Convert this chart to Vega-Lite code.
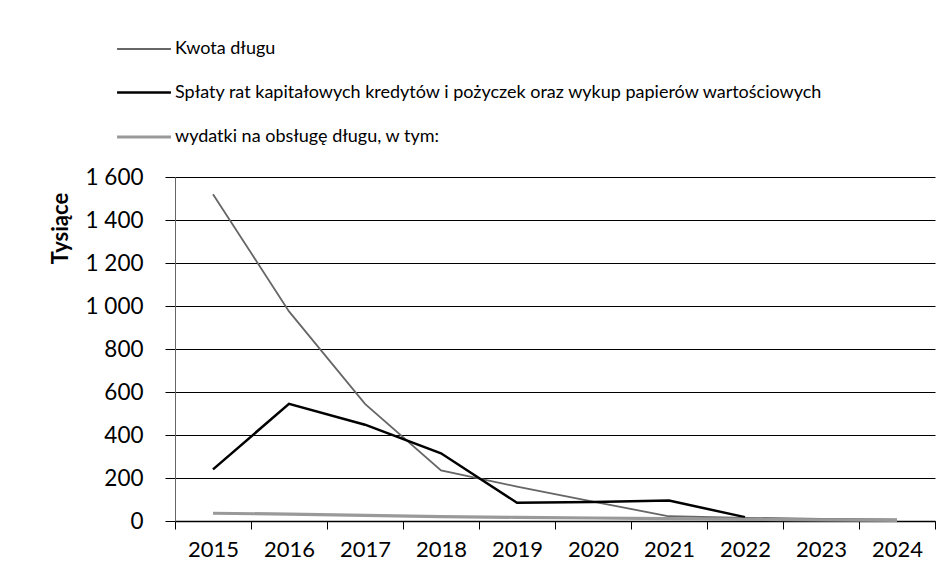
{
  "$schema": "https://vega.github.io/schema/vega-lite/v6.json",
  "autosize": {"type": "none"},
  "padding": {"left": 175, "top": 177, "right": 13, "bottom": 60},
  "width": 760,
  "height": 344,
  "background": "white",
  "config": {
    "font": "Lato",
    "view": {"stroke": null}
  },
  "data": {
    "values": [
      {"rok": "2015", "seria": "Kwota długu", "wartosc": 1520},
      {"rok": "2016", "seria": "Kwota długu", "wartosc": 975},
      {"rok": "2017", "seria": "Kwota długu", "wartosc": 545},
      {"rok": "2018", "seria": "Kwota długu", "wartosc": 235},
      {"rok": "2019", "seria": "Kwota długu", "wartosc": 160},
      {"rok": "2020", "seria": "Kwota długu", "wartosc": 90},
      {"rok": "2021", "seria": "Kwota długu", "wartosc": 22},
      {"rok": "2022", "seria": "Kwota długu", "wartosc": 15},
      {"rok": "2023", "seria": "Kwota długu", "wartosc": 10},
      {"rok": "2024", "seria": "Kwota długu", "wartosc": 8},
      {"rok": "2015", "seria": "Spłaty rat kapitałowych kredytów i pożyczek oraz wykup papierów wartościowych", "wartosc": 240},
      {"rok": "2016", "seria": "Spłaty rat kapitałowych kredytów i pożyczek oraz wykup papierów wartościowych", "wartosc": 545},
      {"rok": "2017", "seria": "Spłaty rat kapitałowych kredytów i pożyczek oraz wykup papierów wartościowych", "wartosc": 448},
      {"rok": "2018", "seria": "Spłaty rat kapitałowych kredytów i pożyczek oraz wykup papierów wartościowych", "wartosc": 315},
      {"rok": "2019", "seria": "Spłaty rat kapitałowych kredytów i pożyczek oraz wykup papierów wartościowych", "wartosc": 85},
      {"rok": "2020", "seria": "Spłaty rat kapitałowych kredytów i pożyczek oraz wykup papierów wartościowych", "wartosc": 88},
      {"rok": "2021", "seria": "Spłaty rat kapitałowych kredytów i pożyczek oraz wykup papierów wartościowych", "wartosc": 95},
      {"rok": "2022", "seria": "Spłaty rat kapitałowych kredytów i pożyczek oraz wykup papierów wartościowych", "wartosc": 18},
      {"rok": "2015", "seria": "wydatki na obsługę długu, w tym:", "wartosc": 36},
      {"rok": "2016", "seria": "wydatki na obsługę długu, w tym:", "wartosc": 32},
      {"rok": "2017", "seria": "wydatki na obsługę długu, w tym:", "wartosc": 26},
      {"rok": "2018", "seria": "wydatki na obsługę długu, w tym:", "wartosc": 20},
      {"rok": "2019", "seria": "wydatki na obsługę długu, w tym:", "wartosc": 17},
      {"rok": "2020", "seria": "wydatki na obsługę długu, w tym:", "wartosc": 14},
      {"rok": "2021", "seria": "wydatki na obsługę długu, w tym:", "wartosc": 11},
      {"rok": "2022", "seria": "wydatki na obsługę długu, w tym:", "wartosc": 8},
      {"rok": "2023", "seria": "wydatki na obsługę długu, w tym:", "wartosc": 5},
      {"rok": "2024", "seria": "wydatki na obsługę długu, w tym:", "wartosc": 3}
    ]
  },
  "mark": {"type": "line", "strokeCap": "butt"},
  "encoding": {
    "x": {
      "field": "rok",
      "type": "ordinal",
      "bandPosition": 0.5,
      "scale": {"type": "band", "paddingInner": 0, "paddingOuter": 0},
      "axis": {
        "title": null,
        "labelAngle": 0,
        "labelFontSize": 22,
        "labelColor": "black",
        "labelPadding": 10,
        "tickBand": "extent",
        "tickSize": 8,
        "tickColor": "black",
        "domainColor": "black",
        "domainWidth": 1.5,
        "grid": false
      }
    },
    "y": {
      "field": "wartosc",
      "type": "quantitative",
      "scale": {"domain": [0, 1600], "nice": false},
      "axis": {
        "title": "Tysiące",
        "titleFontSize": 22,
        "titleFontWeight": "bold",
        "titleColor": "black",
        "titleX": -103,
        "titleY": 51,
        "titleAngle": -90,
        "titleAlign": "center",
        "titleBaseline": "bottom",
        "values": [0, 200, 400, 600, 800, 1000, 1200, 1400, 1600],
        "labelExpr": "replace(format(datum.value, ','), ',', ' ')",
        "labelFontSize": 22.5,
        "labelColor": "black",
        "labelPadding": 22,
        "tickSize": 10,
        "tickColor": "black",
        "domainColor": "#666666",
        "grid": true,
        "gridColor": "black",
        "gridWidth": 1.2
      }
    },
    "color": {
      "field": "seria",
      "type": "nominal",
      "scale": {
        "domain": [
          "Kwota długu",
          "Spłaty rat kapitałowych kredytów i pożyczek oraz wykup papierów wartościowych",
          "wydatki na obsługę długu, w tym:"
        ],
        "range": ["#666666", "#000000", "#999999"]
      },
      "legend": {
        "title": null,
        "orient": "none",
        "legendX": -60,
        "legendY": -156,
        "symbolType": "stroke",
        "symbolSize": 2900,
        "symbolStrokeWidth": 2,
        "labelFontSize": 18,
        "labelColor": "black",
        "labelOffset": 2,
        "labelLimit": 800,
        "rowPadding": 6
      }
    },
    "strokeWidth": {
      "field": "seria",
      "type": "nominal",
      "scale": {
        "domain": [
          "Kwota długu",
          "Spłaty rat kapitałowych kredytów i pożyczek oraz wykup papierów wartościowych",
          "wydatki na obsługę długu, w tym:"
        ],
        "range": [1.8, 3.2, 2]
      },
      "legend": null
    }
  }
}
